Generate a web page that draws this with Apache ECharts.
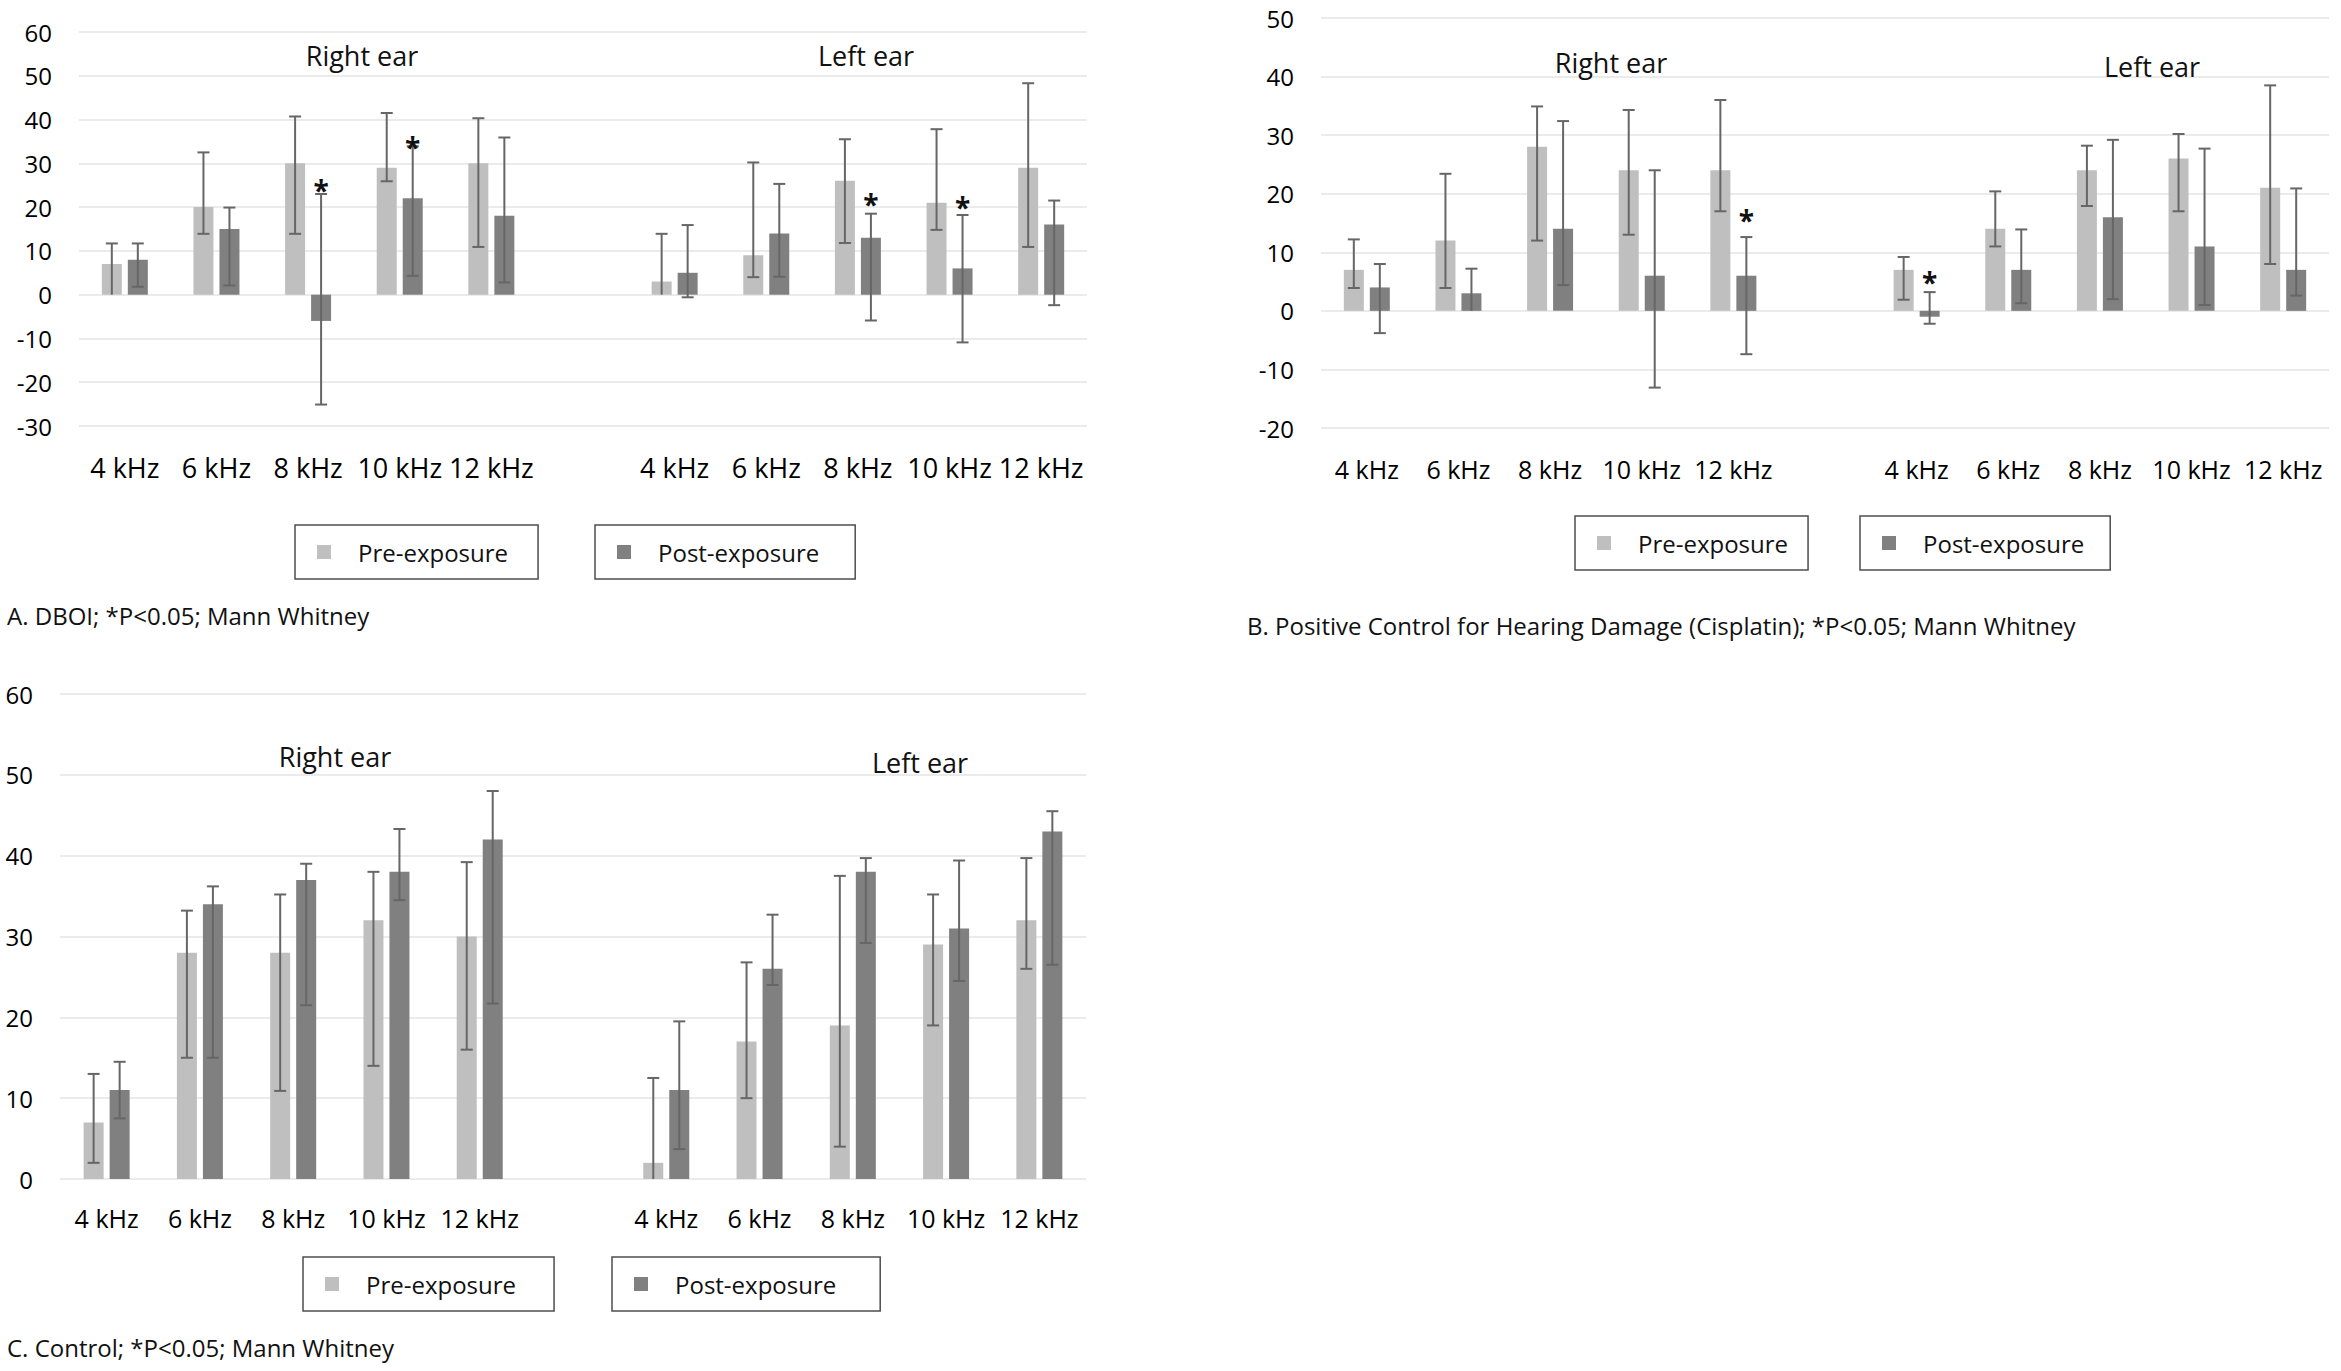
<!DOCTYPE html>
<html><head><meta charset="utf-8">
<script src="https://cdn.jsdelivr.net/npm/echarts@6.0.0/dist/echarts.min.js"></script>
<style>html,body{margin:0;padding:0;background:#fff}#c{width:2341px;height:1371px}</style>
</head><body><div id="c"></div><script>
// ---------- data ----------
const freqs = ['4 kHz', '6 kHz', '8 kHz', '10 kHz', '12 kHz'];
const earLabels = ['Right ear', 'Left ear'];
const seriesNames = ['Pre-exposure', 'Post-exposure'];
const captions = [
  'A. DBOI; *P<0.05; Mann Whitney',
  'B. Positive Control for Hearing Damage (Cisplatin); *P<0.05; Mann Whitney',
  'C. Control; *P<0.05; Mann Whitney'
];

// Panel A (DBOI)
const A_preR = [7, 20, 30, 29, 30];
const A_preR_lo = [0, 13.9, 13.9, 25.9, 10.9];
const A_preR_hi = [11.7, 32.5, 40.7, 41.5, 40.3];
const A_postR = [8, 15, -6, 22, 18];
const A_postR_lo = [1.8, 2.1, -25.1, 4.3, 2.8];
const A_postR_hi = [11.7, 19.9, 23, 33.9, 35.9];
const A_preL = [3, 9, 26, 21, 29];
const A_preL_lo = [0, 4, 11.8, 14.8, 10.9];
const A_preL_hi = [13.9, 30.2, 35.5, 37.8, 48.3];
const A_postL = [5, 14, 13, 6, 16];
const A_postL_lo = [-0.6, 4.1, -5.9, -10.9, -2.4];
const A_postL_hi = [15.9, 25.3, 18.5, 18.2, 21.5];
const A_starR = [null, null, 25.2, 35, null];
const A_starL = [null, null, 22, 21.5, null];

// Panel B (Cisplatin)
const B_preR = [7, 12, 28, 24, 24];
const B_preR_lo = [3.9, 3.9, 12, 13, 17];
const B_preR_hi = [12.2, 23.4, 34.9, 34.3, 36];
const B_postR = [4, 3, 14, 6, 6];
const B_postR_lo = [-3.8, 0, 4.4, -13.1, -7.4];
const B_postR_hi = [8, 7.2, 32.4, 24, 12.6];
const B_preL = [7, 14, 24, 26, 21];
const B_preL_lo = [1.9, 11, 17.9, 17, 8];
const B_preL_hi = [9.2, 20.4, 28.2, 30.2, 38.5];
const B_postL = [-1, 7, 16, 11, 7];
const B_postL_lo = [-2.2, 1.3, 2, 1, 2.6];
const B_postL_hi = [3.2, 13.9, 29.2, 27.7, 20.9];
const B_starR = [null, null, null, null, 16.6];
const B_starL = [6, null, null, null, null];

// Panel C (Control)
const C_preR = [7, 28, 28, 32, 30];
const C_preR_lo = [2, 15, 10.9, 14, 16];
const C_preR_hi = [13, 33.2, 35.2, 38, 39.2];
const C_postR = [11, 34, 37, 38, 42];
const C_postR_lo = [7.5, 15, 21.5, 34.5, 21.7];
const C_postR_hi = [14.5, 36.2, 39, 43.3, 48];
const C_preL = [2, 17, 19, 29, 32];
const C_preL_lo = [0, 10, 4, 19, 26];
const C_preL_hi = [12.5, 26.8, 37.5, 35.2, 39.7];
const C_postL = [11, 26, 38, 31, 43];
const C_postL_lo = [3.7, 24, 29.2, 24.5, 26.5];
const C_postL_hi = [19.5, 32.7, 39.7, 39.4, 45.5];
const noStars = [null, null, null, null, null];

// ---------- style ----------
const FONT = '"Open Sans", "Noto Sans", sans-serif';
const PRE_COLOR = '#bfbfbf';
const POST_COLOR = '#808080';
const ERR_COLOR = '#666666';
const GRID_COLOR = '#ebebeb';
const BAR_W = 20;
const BAR_GAP = 0.3;
const CAP = 6;

const categories = [...freqs, '', ...freqs];
const BLANK = freqs.length;

function barData(r, l) { return [...r, '-', ...l]; }
function errData(loR, hiR, starR, loL, hiL, starL) {
  const out = [];
  for (let i = 0; i < freqs.length; i++) {
    out.push([i, loR[i], hiR[i], starR[i] == null ? NaN : starR[i]]);
    out.push([i + BLANK + 1, loL[i], hiL[i], starL[i] == null ? NaN : starL[i]]);
  }
  return out;
}

function errRender(side) {
  return function (params, api) {
    const i = api.value(0), lo = api.value(1), hi = api.value(2), star = api.value(3);
    const off = side * (BAR_W * (1 + BAR_GAP) / 2);
    const pt = api.coord([i, hi]);
    const pb = api.coord([i, lo]);
    const x = pt[0] + off;
    const ls = { stroke: ERR_COLOR, lineWidth: 2 };
    const ch = [
      { type: 'line', shape: { x1: x, y1: pt[1], x2: x, y2: pb[1] }, style: ls },
      { type: 'line', shape: { x1: x - CAP, y1: pt[1], x2: x + CAP, y2: pt[1] }, style: ls }
    ];
    if (lo !== 0) ch.push({ type: 'line', shape: { x1: x - CAP, y1: pb[1], x2: x + CAP, y2: pb[1] }, style: ls });
    if (!isNaN(star)) {
      const ps = api.coord([i, star]);
      ch.push({ type: 'text', style: { text: '*', x: x, y: ps[1] + 6, align: 'center', verticalAlign: 'middle',
        font: 'bold 28px ' + FONT, fill: '#111' } });
    }
    return { type: 'group', children: ch };
  };
}

const panels = [
  { grid: { left: 79, top: 32, width: 1008, height: 394 }, min: -30, max: 60, xFont: 27, xMargin: 28,
    pre: [A_preR, A_preL], post: [A_postR, A_postL],
    preErr: errData(A_preR_lo, A_preR_hi, noStars, A_preL_lo, A_preL_hi, noStars),
    postErr: errData(A_postR_lo, A_postR_hi, A_starR, A_postL_lo, A_postL_hi, A_starL) },
  { grid: { left: 1321, top: 18, width: 1008, height: 410 }, min: -20, max: 50, xFont: 25, xMargin: 28,
    pre: [B_preR, B_preL], post: [B_postR, B_postL],
    preErr: errData(B_preR_lo, B_preR_hi, noStars, B_preL_lo, B_preL_hi, noStars),
    postErr: errData(B_postR_lo, B_postR_hi, B_starR, B_postL_lo, B_postL_hi, B_starL) },
  { grid: { left: 60, top: 694, width: 1026, height: 485 }, min: 0, max: 60, xFont: 25, xMargin: 26,
    pre: [C_preR, C_preL], post: [C_postR, C_postL],
    preErr: errData(C_preR_lo, C_preR_hi, noStars, C_preL_lo, C_preL_hi, noStars),
    postErr: errData(C_postR_lo, C_postR_hi, noStars, C_postL_lo, C_postL_hi, noStars) }
];

const grids = [], xAxes = [], yAxes = [], series = [];
panels.forEach((p, k) => {
  grids.push(Object.assign({ containLabel: false, outerBoundsMode: 'none' }, p.grid));
  xAxes.push({ type: 'category', gridIndex: k, data: categories,
    axisLine: { show: false, onZero: false }, axisTick: { show: false }, splitLine: { show: false },
    axisLabel: { interval: 0, hideOverlap: false, fontSize: p.xFont, color: '#000', fontFamily: FONT, margin: p.xMargin } });
  yAxes.push({ type: 'value', gridIndex: k, min: p.min, max: p.max, interval: 10,
    axisLine: { show: false }, axisTick: { show: false },
    splitLine: { show: true, lineStyle: { color: GRID_COLOR, width: 2 } },
    axisLabel: { fontSize: 24, color: '#000', fontFamily: FONT, margin: 27 } });
  series.push({ type: 'bar', name: seriesNames[0], xAxisIndex: k, yAxisIndex: k, barWidth: BAR_W, barGap: (BAR_GAP * 100) + '%',
    itemStyle: { color: PRE_COLOR }, data: barData(p.pre[0], p.pre[1]), silent: true });
  series.push({ type: 'bar', name: seriesNames[1], xAxisIndex: k, yAxisIndex: k, barWidth: BAR_W, barGap: (BAR_GAP * 100) + '%',
    itemStyle: { color: POST_COLOR }, data: barData(p.post[0], p.post[1]), silent: true });
  series.push({ type: 'custom', xAxisIndex: k, yAxisIndex: k, renderItem: errRender(-1), data: p.preErr,
    encode: { x: 0, y: [1, 2] }, z: 5, silent: true });
  series.push({ type: 'custom', xAxisIndex: k, yAxisIndex: k, renderItem: errRender(1), data: p.postErr,
    encode: { x: 0, y: [1, 2] }, z: 5, silent: true });
});

function legendBox(name, left, top, padR) {
  return { show: true, data: [{ name: name, icon: 'rect' }], left: left, top: top, orient: 'horizontal',
    itemWidth: 14, itemHeight: 14, selectedMode: false,
    padding: [15, padR, 15, 22], borderColor: '#4d4d4d', borderWidth: 1.5, borderRadius: 0,
    textStyle: { fontSize: 24, color: '#111', fontFamily: FONT, padding: [0, 0, 0, 22] } };
}
const legends = [
  legendBox(seriesNames[0], 295, 525, 30), legendBox(seriesNames[1], 595, 525, 36),
  legendBox(seriesNames[0], 1575, 516, 20), legendBox(seriesNames[1], 1860, 516, 26),
  legendBox(seriesNames[0], 303, 1257, 38), legendBox(seriesNames[1], 612, 1257, 44)
];

function label(text, x, y, size, align) {
  return { type: 'text', x: x, y: y, silent: true, z: 100,
    style: { text: text, align: align || 'center', verticalAlign: 'middle', font: size + 'px ' + FONT, fill: '#111' } };
}
const graphics = [
  label(earLabels[0], 362, 55, 27), label(earLabels[1], 866, 55, 27),
  label(earLabels[0], 1611, 62, 27), label(earLabels[1], 2152, 66, 27),
  label(earLabels[0], 335, 756, 27), label(earLabels[1], 920, 762, 27),
  label(captions[0], 7, 615, 24, 'left'),
  label(captions[1], 1247, 625, 24, 'left'),
  label(captions[2], 7, 1347, 24, 'left')
];

const chart = echarts.init(document.getElementById('c'), null, { renderer: 'svg' });
chart.setOption({
  backgroundColor: '#ffffff',
  animation: false,
  textStyle: { fontFamily: FONT },
  grid: grids, xAxis: xAxes, yAxis: yAxes, series: series,
  legend: legends, graphic: graphics, tooltip: { show: false }
});
</script></body></html>
